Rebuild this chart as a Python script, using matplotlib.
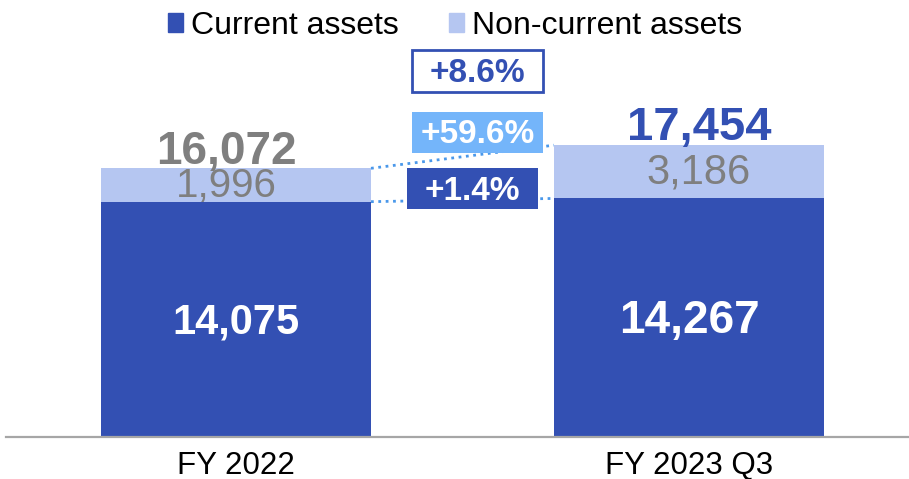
import matplotlib
matplotlib.use("Agg")
import matplotlib.pyplot as plt
from matplotlib.patches import Patch, Rectangle

plt.rcParams['font.family'] = ['Liberation Sans', 'DejaVu Sans']

# data
periods = ['FY 2022', 'FY 2023 Q3']
current_assets = [14075, 14267]
noncurrent_assets = [1996, 3186]
totals = [16072, 17454]
total_change = '+8.6%'
noncurrent_change = '+59.6%'
current_change = '+1.4%'

# colours
DARK = '#3350B3'
LIGHT = '#B5C6F1'
SKY = '#74B5FA'
GRAY = '#7F7F7F'
DOTS = '#4A98EA'

fig = plt.figure(figsize=(9.09, 4.79), dpi=100)
ax = fig.add_axes([6 / 909, 42 / 479, 903 / 909, 437 / 479])

x = list(range(len(periods)))
width = 0.596
ax.bar(x, current_assets, width, color=DARK, zorder=2)
ax.bar(x, noncurrent_assets, width, bottom=current_assets, color=LIGHT, zorder=2)

ax.set_xlim(-0.5077, 1.4857)
ax.set_ylim(0, 26136)
px = 26136 / 437  # data units per pixel

for s in ['top', 'right', 'left']:
    ax.spines[s].set_visible(False)
ax.spines['bottom'].set_color('#A6A6A6')
ax.spines['bottom'].set_linewidth(1.6)
ax.set_yticks([])
ax.set_xticks(x)
ax.set_xticklabels(periods, fontsize=22.5)
ax.tick_params(axis='x', length=0, pad=10)

# labels inside / on top of bars
cur_sizes = [30, 33]
tot_sizes = [33, 34]
tot_colors = [GRAY, DARK]
nc_sizes = [29, 30]
dx = [-10, 10]
for i in x:
    ax.text(i, current_assets[i] / 2 - 3 * px, f'{current_assets[i]:,}', ha='center', va='center',
            color='white', fontsize=cur_sizes[i], fontweight='bold', zorder=3)
    ax.text(i + dx[i] / 453, current_assets[i] + noncurrent_assets[i] / 2 - 1 * px, f'{noncurrent_assets[i]:,}',
            ha='center', va='center', color=GRAY, fontsize=nc_sizes[i], zorder=3)
    ax.annotate(f'{totals[i]:,}', (i, current_assets[i] + noncurrent_assets[i]),
                xytext=(dx[i] * 0.72, 3 if i == 0 else 4), textcoords='offset points',
                ha='center', va='baseline',
                color=tot_colors[i], fontsize=tot_sizes[i], fontweight='bold', zorder=3)

# dotted connector lines
left_edge = x[0] + width / 2
right_edge = x[1] - width / 2
tops = [c + n for c, n in zip(current_assets, noncurrent_assets)]
ax.plot([left_edge, right_edge], [tops[0], tops[1]], ls=':', color=DOTS, lw=2, zorder=1)
ax.plot([left_edge, right_edge], [current_assets[0], current_assets[1]], ls=':', color=DOTS, lw=2, zorder=1)

# change boxes
boxes = [
    (0.3885, 20634, 2512, total_change, 'white', DARK, DARK),
    (0.3885, 16986, 2452, noncurrent_change, SKY, 'white', 'none'),
    (0.3775, 13636, 2452, current_change, DARK, 'white', 'none'),
]
bw = 0.289
for bx, by, bh, label, fc, tc, ec in boxes:
    ax.add_patch(Rectangle((bx, by), bw, bh, facecolor=fc, edgecolor=ec, lw=2, zorder=4))
    ax.text(bx + bw / 2, by + bh / 2 - 2.5 * px, label, ha='center', va='center', color=tc,
            fontsize=24, fontweight='bold', zorder=5)

handles = [Patch(color=DARK, label='Current assets'), Patch(color=LIGHT, label='Non-current assets')]
fig.legend(handles=handles, loc='center', bbox_to_anchor=(455 / 909, 1 - 26 / 479), ncol=2,
           frameon=False, fontsize=23, handlelength=0.45, handleheight=0.55,
           handletextpad=0.25, columnspacing=1.6, borderaxespad=0)

fig.savefig('out.png', dpi=100)
